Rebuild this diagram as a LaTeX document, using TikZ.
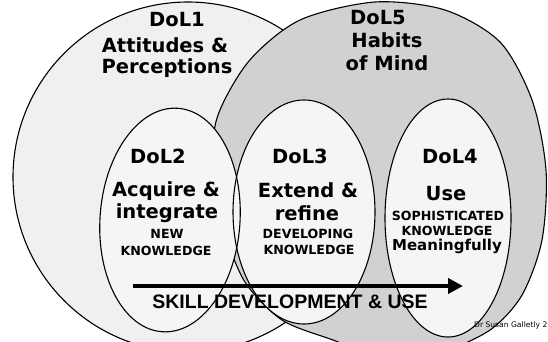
\documentclass[tikz,border=0pt]{standalone}
\usepackage{fontspec}
\newfontfamily\verdana{DejaVu Sans}
\newfontfamily\arialfont{Liberation Sans}
\usetikzlibrary{arrows.meta}

\begin{document}
\begin{tikzpicture}[x=1pt,y=-1pt,
  every node/.style={inner sep=0pt,anchor=base},
  big/.style={font=\verdana\bfseries\fontsize{19.5}{20}\selectfont},
  mid/.style={font=\verdana\bfseries\fontsize{15}{16}\selectfont},
  small/.style={font=\verdana\bfseries\fontsize{12.6}{13}\selectfont},
  ring/.style={draw=black,line width=1.1pt},
  skillarrow/.style={line width=4.5pt,-{Triangle[length=15pt,width=15pt]}}]
\useasboundingbox (0,0) rectangle (548,341);
\clip (0,0) rectangle (548,341);
\fill[white] (0,0) rectangle (548,341);

% outer circles
\filldraw[ring,fill=black!6] (188,177) circle[radius=175];
\filldraw[ring,fill=black!18] plot[smooth cycle] coordinates {
  (375,2) (445,10) (500,42) (532,100) (546,170) (542,240) (522,295)
  (490,330) (440,352) (380,356) (333,340) (282,320) (245,282) (224,230)
  (213,175) (217,118) (249,61) (300,20)};

% inner ellipses
\fill[black!4,rotate around={-4:(170,220)}] (170,220) ellipse[x radius=70,y radius=112];
\fill[black!4] (304,212) ellipse[x radius=71,y radius=112];
\fill[black!4] (448,218) ellipse[x radius=63,y radius=119];
\draw[ring,rotate around={-4:(170,220)}] (170,220) ellipse[x radius=70,y radius=112];
\draw[ring] (304,212) ellipse[x radius=71,y radius=112];
\draw[ring] (448,218) ellipse[x radius=63,y radius=119];

% DoL1
\node[big] (dol1) at (177,26) {DoL1};
\node[big] (dol1a) at (165,52) {Attitudes \&};
\node[big] (dol1b) at (167,73) {Perceptions};
% DoL5
\node[big] (dol5) at (378,24) {DoL5};
\node[big] (dol5a) at (387,47) {Habits};
\node[big] (dol5b) at (387,70) {of Mind};
% DoL2
\node[big] (dol2) at (158,163) {DoL2};
\node[big] (dol2a) at (166,196) {Acquire \&};
\node[big] (dol2b) at (167,218) {integrate};
\node[small] (dol2c) at (167,238) {NEW};
\node[small] (dol2d) at (166,255) {KNOWLEDGE};
% DoL3
\node[big] (dol3) at (300,163) {DoL3};
\node[big] (dol3a) at (308,197) {Extend \&};
\node[big] (dol3b) at (307,220) {refine};
\node[small] (dol3c) at (308,238) {DEVELOPING};
\node[small] (dol3d) at (309,254) {KNOWLEDGE};
% DoL4
\node[big] (dol4) at (450,163) {DoL4};
\node[big] (dol4a) at (446,200) {Use};
\node[small] (dol4b) at (448,220) {SOPHISTICATED};
\node[small] (dol4c) at (447,235) {KNOWLEDGE};
\node[mid] (dol4d) at (447,250) {Meaningfully};

% skill arrow
\coordinate (arrowstart) at (133,286);
\coordinate (arrowend) at (463,286);
\draw[skillarrow] (arrowstart) -- (arrowend);
\node[font=\arialfont\bfseries\fontsize{19.5}{20}\selectfont] (skill) at (290,308) {SKILL DEVELOPMENT \& USE};

\node[anchor=base west,font=\verdana\fontsize{7.6}{8}\selectfont] (credit) at (474,327) {Dr Susan Galletly 2};
\end{tikzpicture}
\end{document}
